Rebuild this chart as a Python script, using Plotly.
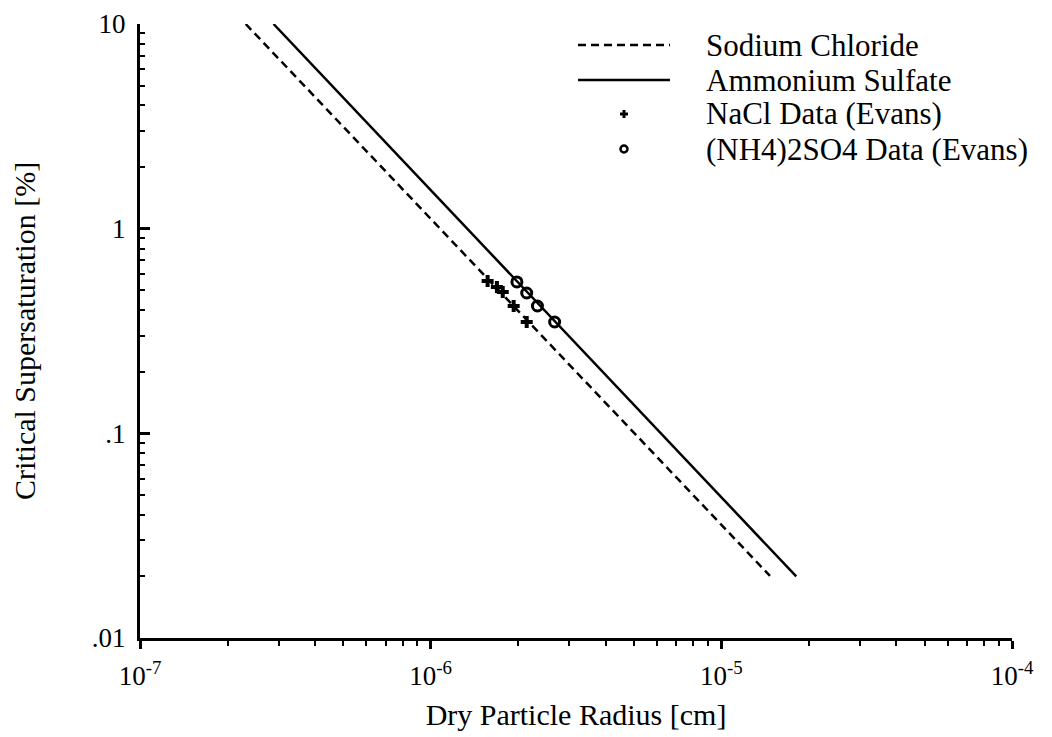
import plotly.graph_objects as go

# Theory curves (endpoints)
nacl_radius = [2.31e-7, 1.47e-5]
nacl_ssat = [10.0, 0.0201]
amsulf_radius = [2.88e-7, 1.81e-5]
amsulf_ssat = [10.0, 0.0200]

# Evans data
nacl_data_radius = [1.57e-6, 1.69e-6, 1.77e-6, 1.93e-6, 2.14e-6]
nacl_data_ssat = [0.555, 0.519, 0.491, 0.419, 0.350]
amsulf_data_radius = [1.98e-6, 2.14e-6, 2.33e-6, 2.67e-6]
amsulf_data_ssat = [0.549, 0.485, 0.419, 0.350]

x_tickvals = [1e-7, 1e-6, 1e-5, 1e-4]
x_ticktext = ["10<sup>-7</sup>", "10<sup>-6</sup>", "10<sup>-5</sup>", "10<sup>-4</sup>"]
y_tickvals = [0.01, 0.1, 1, 10]
y_ticktext = [".01", ".1", "1", "10"]

legend_labels = ["Sodium Chloride", "Ammonium Sulfate", "NaCl Data (Evans)", "(NH4)2SO4 Data (Evans)"]

FONT = "Liberation Serif"
W, H = 1052, 737
ML, MR, MT, MB = 132, 48, 16, 107
PW, PH = W - ML - MR, H - MT - MB
OFF = 8  # page body margin


def px(xs):
    return (xs - OFF - ML) / PW


def py(ys):
    return (H - MB - (ys - OFF)) / PH


fig = go.Figure()
fig.add_trace(go.Scatter(x=nacl_radius, y=nacl_ssat, mode="lines", name=legend_labels[0],
                         line=dict(color="black", width=2.5, dash="8px,5px"), showlegend=False))
fig.add_trace(go.Scatter(x=amsulf_radius, y=amsulf_ssat, mode="lines", name=legend_labels[1],
                         line=dict(color="black", width=2.5), showlegend=False))
fig.add_trace(go.Scatter(x=nacl_data_radius, y=nacl_data_ssat, mode="markers", name=legend_labels[2],
                         marker=dict(symbol="cross", size=10, color="black"), showlegend=False))
fig.add_trace(go.Scatter(x=amsulf_data_radius, y=amsulf_data_ssat, mode="markers",
                         name=legend_labels[3], showlegend=False,
                         marker=dict(symbol="circle-open", size=10, color="black", line=dict(width=3))))

minor_vals = [m * 10 ** e for e in range(-8, 2) for m in range(2, 10)]

fig.update_xaxes(type="log", range=[-7, -4], showline=True, linecolor="black", linewidth=3,
                 showgrid=False, zeroline=False, ticks="outside", ticklen=8, tickwidth=2.5,
                 tickcolor="black", tickmode="array", tickvals=x_tickvals, ticktext=x_ticktext,
                 tickfont=dict(family=FONT, size=27, color="black"), ticklabelstandoff=4,
                 automargin=False,
                 minor=dict(ticks="outside", ticklen=5, tickwidth=2, tickcolor="black",
                            tickmode="array", tickvals=minor_vals, showgrid=False),
                 title=dict(text="Dry Particle Radius [cm]", font=dict(family=FONT, size=30, color="black"),
                            standoff=14))
fig.update_yaxes(type="log", range=[-2, 1], showline=True, linecolor="black", linewidth=3,
                 showgrid=False, zeroline=False, ticks="inside", ticklen=10, tickwidth=2.5,
                 tickcolor="black", tickmode="array", tickvals=y_tickvals, ticktext=y_ticktext,
                 tickfont=dict(family=FONT, size=27, color="black"), ticklabelstandoff=6,
                 automargin=False,
                 minor=dict(ticks="inside", ticklen=5, tickwidth=2, tickcolor="black",
                            tickmode="array", tickvals=minor_vals, showgrid=False),
                 title=dict(text="Critical Supersaturation [%]", font=dict(family=FONT, size=30, color="black"),
                            standoff=54))

# Hand-drawn legend (rows at fixed screen heights)
row_y = [45, 80, 114, 149]
shapes = [
    dict(type="line", xref="paper", yref="paper", x0=px(578), x1=px(670), y0=py(row_y[0]), y1=py(row_y[0]),
         line=dict(color="black", width=2.5, dash="8px,5px")),
    dict(type="line", xref="paper", yref="paper", x0=px(578), x1=px(670), y0=py(row_y[1]), y1=py(row_y[1]),
         line=dict(color="black", width=2.5)),
    dict(type="line", xref="paper", yref="paper", xsizemode="pixel", ysizemode="pixel",
         xanchor=px(624), yanchor=py(row_y[2]), x0=-4, x1=4, y0=0, y1=0, line=dict(color="black", width=3)),
    dict(type="line", xref="paper", yref="paper", xsizemode="pixel", ysizemode="pixel",
         xanchor=px(624), yanchor=py(row_y[2]), x0=0, x1=0, y0=-4, y1=4, line=dict(color="black", width=3)),
    dict(type="circle", xref="paper", yref="paper", xsizemode="pixel", ysizemode="pixel",
         xanchor=px(624), yanchor=py(row_y[3]), x0=-3.5, x1=3.5, y0=-3.5, y1=3.5,
         line=dict(color="black", width=2.5)),
]
annotations = [
    dict(text=lab, xref="paper", yref="paper", x=px(704), y=py(yy), xanchor="left", yanchor="middle",
         showarrow=False, font=dict(family=FONT, size=31, color="black"))
    for lab, yy in zip(legend_labels, row_y)
]

fig.update_layout(
    width=W, height=H,
    margin=dict(l=ML, r=MR, t=MT, b=MB),
    plot_bgcolor="white", paper_bgcolor="white",
    font=dict(family=FONT, color="black"),
    showlegend=False,
    shapes=shapes, annotations=annotations,
)

fig.write_html("out.html")
